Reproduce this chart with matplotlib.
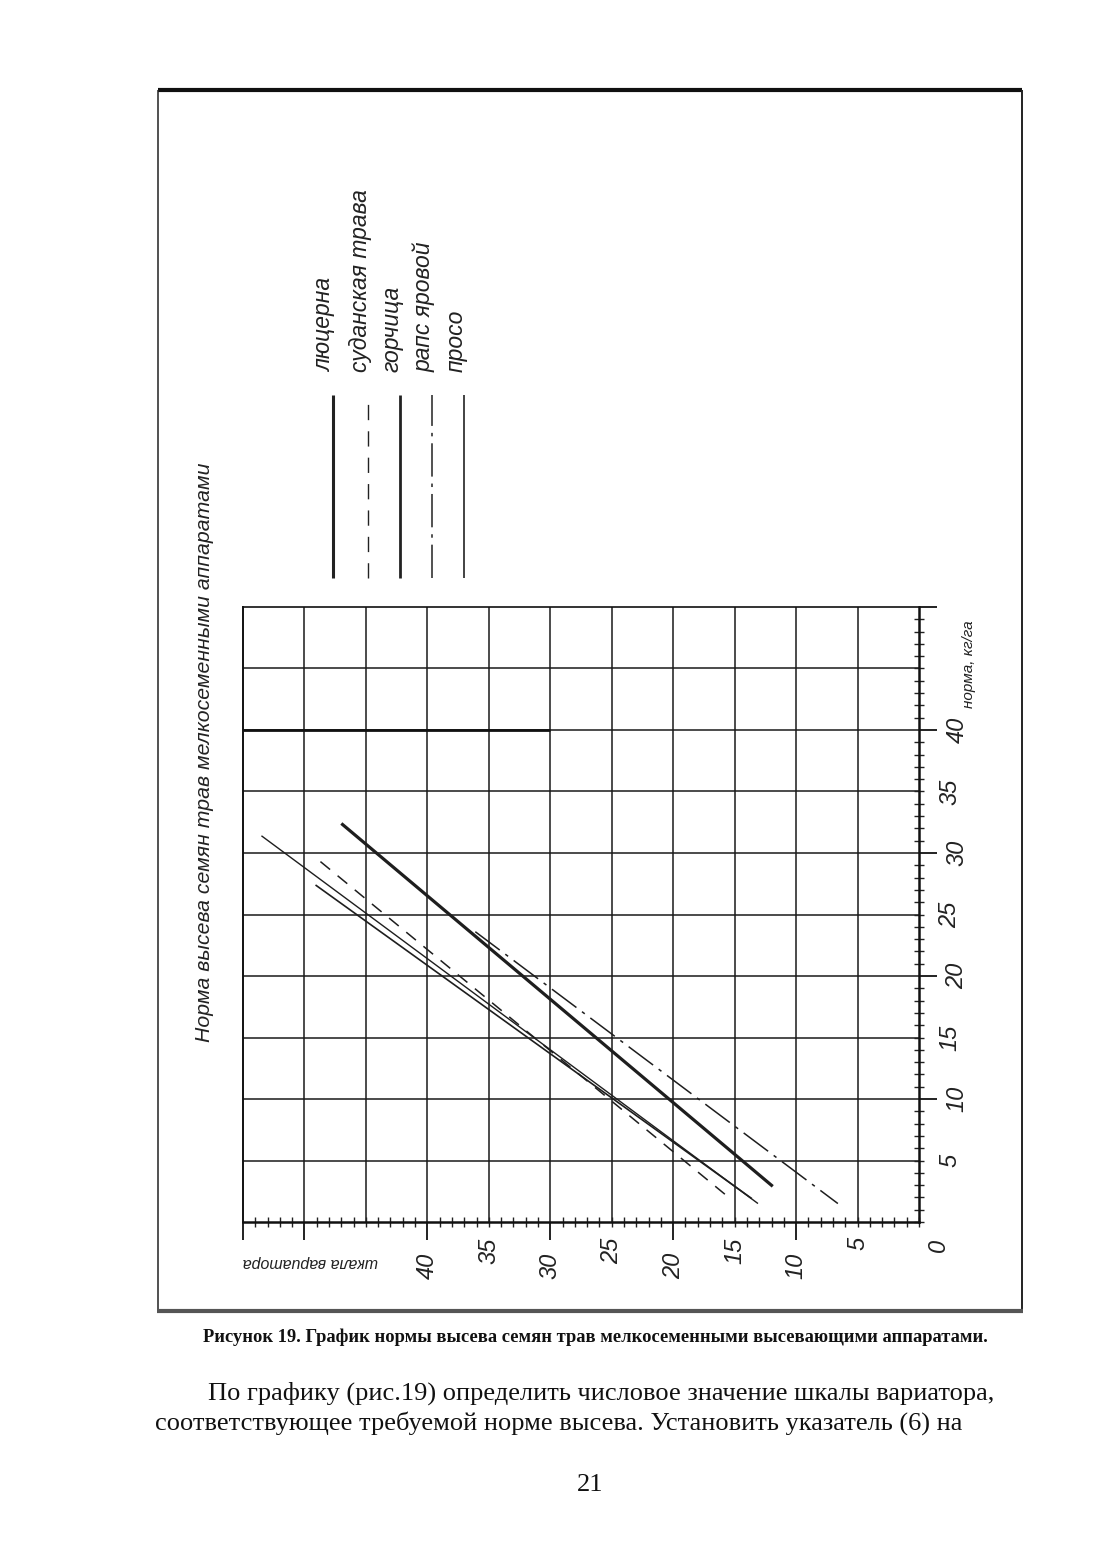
import matplotlib
matplotlib.use('Agg')
import matplotlib.pyplot as plt
from matplotlib.ticker import MultipleLocator, FixedLocator, NullFormatter

plt.rcParams['lines.scale_dashes'] = False
plt.rcParams['lines.solid_capstyle'] = 'butt'

# ---------------- data ----------------
species = ['люцерна', 'суданская трава', 'горчица', 'рапс яровой', 'просо']
# variator scale (шкала вариатора) and seeding rate (норма, кг/га) at line ends
scale_start = [47.0, 48.7, 49.1, 36.1, 53.5]
rate_start = [32.4, 29.3, 27.4, 23.6, 31.4]
scale_end = [11.9, 15.6, 13.6, 6.6, 13.1]
rate_end = [2.9, 2.1, 1.9, 1.5, 1.5]

scale_ticks = [0, 5, 10, 15, 20, 25, 30, 35, 40]
rate_ticks = [5, 10, 15, 20, 25, 30, 35, 40]
grid_scale = [5, 10, 15, 20, 25, 30, 35, 40, 45, 50]
grid_rate = [5, 10, 15, 20, 25, 30, 35, 40, 45]

title = 'Норма высева семян трав мелкосеменными аппаратами'
xlab = 'шкала вариатора'
ylab = 'норма, кг/га'
caption = 'Рисунок 19. График нормы высева семян трав мелкосеменными высевающими аппаратами.'
body1 = 'По графику (рис.19) определить числовое значение шкалы вариатора,'
body2 = 'соответствующее требуемой норме высева. Установить указатель (6) на'
page_no = '21'

# ---------------- styles ----------------
styles = [
    dict(color='#1e1e1e', lw=2.3, ls='-'),
    dict(color='#1e1e1e', lw=1.1, ls=(0, (9, 7))),
    dict(color='#1e1e1e', lw=1.2, ls='-'),
    dict(color='#1e1e1e', lw=1.1, ls=(0, (22, 5, 2.5, 5))),
    dict(color='#1e1e1e', lw=1.0, ls='-'),
]
legend_ls = ['-', (0, (11, 8)), '-', (0, (24, 5, 2.5, 5)), '-']
legend_lw = [2.2, 1.0, 2.0, 1.1, 1.2]

GOST = ['Liberation Sans', 'DejaVu Sans']
SERIF = ['Liberation Serif', 'DejaVu Serif']

W, H = 1111, 1560
fig = plt.figure(figsize=(W / 100, H / 100), dpi=100)

# page overlay in pixel coordinates
pg = fig.add_axes([0, 0, 1, 1])
pg.set_xlim(0, W)
pg.set_ylim(H, 0)
pg.axis('off')

# frame
pg.plot([158, 1022], [90, 90], color='#111111', lw=3.0)
pg.plot([158, 158], [90, 1311], color='#222222', lw=1.1)
pg.plot([1022, 1022], [90, 1311], color='#222222', lw=1.4)
pg.plot([157, 1023], [1311, 1311], color='#555555', lw=3.0)

# title (rotated)
pg.text(205, 1042, title, rotation=90, ha='center', va='bottom',
        fontsize=15.3, style='italic', family=GOST, color='#222222')

# legend
leg_x = [333, 368, 400, 432, 464]
for i, name in enumerate(species):
    pg.plot([leg_x[i], leg_x[i]], [578, 395], color='#222222',
            lw=legend_lw[i], ls=legend_ls[i])
    pg.text(leg_x[i] - 8, 372, name, rotation=90, ha='center', va='bottom',
            fontsize=16.5, style='italic', family=GOST, color='#222222')

# caption and body text
pg.text(595, 1337, caption, ha='center', va='center', fontsize=13.3,
        fontweight='bold', family=SERIF, color='#111111')
pg.text(208, 1393, body1, ha='left', va='center', fontsize=19,
        family=SERIF, color='#111111')
pg.text(155, 1423, body2, ha='left', va='center', fontsize=19,
        family=SERIF, color='#111111')
pg.text(590, 1485, page_no, ha='center', va='center', fontsize=19,
        family=SERIF, color='#111111')

# ---------------- main chart ----------------
ax = fig.add_axes([243 / W, 1 - 1222 / H, (919 - 243) / W, (1222 - 607) / H])
ax.set_facecolor('none')
ax.set_xlim(55, 0)
ax.set_ylim(0, 50)

for v in grid_scale:
    ax.axvline(v, color='#1a1a1a', lw=1.1, zorder=1)
for v in grid_rate:
    ax.axhline(v, color='#1a1a1a', lw=1.1, zorder=1)
ax.plot([55, 30], [40, 40], color='#111111', lw=2.0, zorder=1)

for sp in ax.spines.values():
    sp.set_color('#111111')
ax.spines['bottom'].set_linewidth(1.8)
ax.spines['right'].set_linewidth(1.8)
ax.spines['left'].set_linewidth(1.4)
ax.spines['top'].set_linewidth(1.2)

ax.yaxis.tick_right()
ax.xaxis.set_major_locator(FixedLocator([10, 20, 30, 40, 50, 55]))
ax.xaxis.set_minor_locator(MultipleLocator(1))
ax.yaxis.set_major_locator(FixedLocator([10, 20, 30, 40, 50]))
ax.yaxis.set_minor_locator(MultipleLocator(1))
ax.xaxis.set_major_formatter(NullFormatter())
ax.yaxis.set_major_formatter(NullFormatter())
ax.tick_params(which='major', direction='out', length=13, width=1.3, color='#111111')
ax.tick_params(which='minor', direction='inout', length=7, width=1.0, color='#222222')

# data lines
for i in range(len(species)):
    st = styles[i]
    ax.plot([scale_start[i], scale_end[i]], [rate_start[i], rate_end[i]],
            color=st['color'], lw=st['lw'], ls=st['ls'], zorder=3)

# tick labels
for v in scale_ticks:
    if v == 0:
        ax.annotate(str(v), xy=(v, 0), xytext=(14, -12), textcoords='offset points',
                    rotation=90, ha='center', va='top', fontsize=17, style='italic',
                    family=GOST, color='#222222', annotation_clip=False)
        continue
    off = -22 if v % 10 == 0 else -11
    ax.annotate(str(v), xy=(v, 0), xytext=(0, off), textcoords='offset points',
                rotation=90, ha='center', va='top', fontsize=17, style='italic',
                family=GOST, color='#222222', annotation_clip=False)
for v in rate_ticks:
    off = 19 if v % 10 == 0 else 14
    ax.annotate(str(v), xy=(0, v), xytext=(off, 0), textcoords='offset points',
                rotation=90, ha='left', va='center', fontsize=17, style='italic',
                family=GOST, color='#222222', annotation_clip=False)

ax.annotate(ylab, xy=(0, 40), xytext=(36, 16), textcoords='offset points',
            rotation=90, ha='center', va='bottom', fontsize=11, style='italic',
            family=GOST, color='#222222', annotation_clip=False)
ax.annotate(xlab, xy=(55, 0), xytext=(0, -29), textcoords='offset points',
            rotation=180, ha='left', va='center', fontsize=11.5, style='italic',
            family=GOST, color='#222222', annotation_clip=False)

fig.savefig('out.png', dpi=100)
